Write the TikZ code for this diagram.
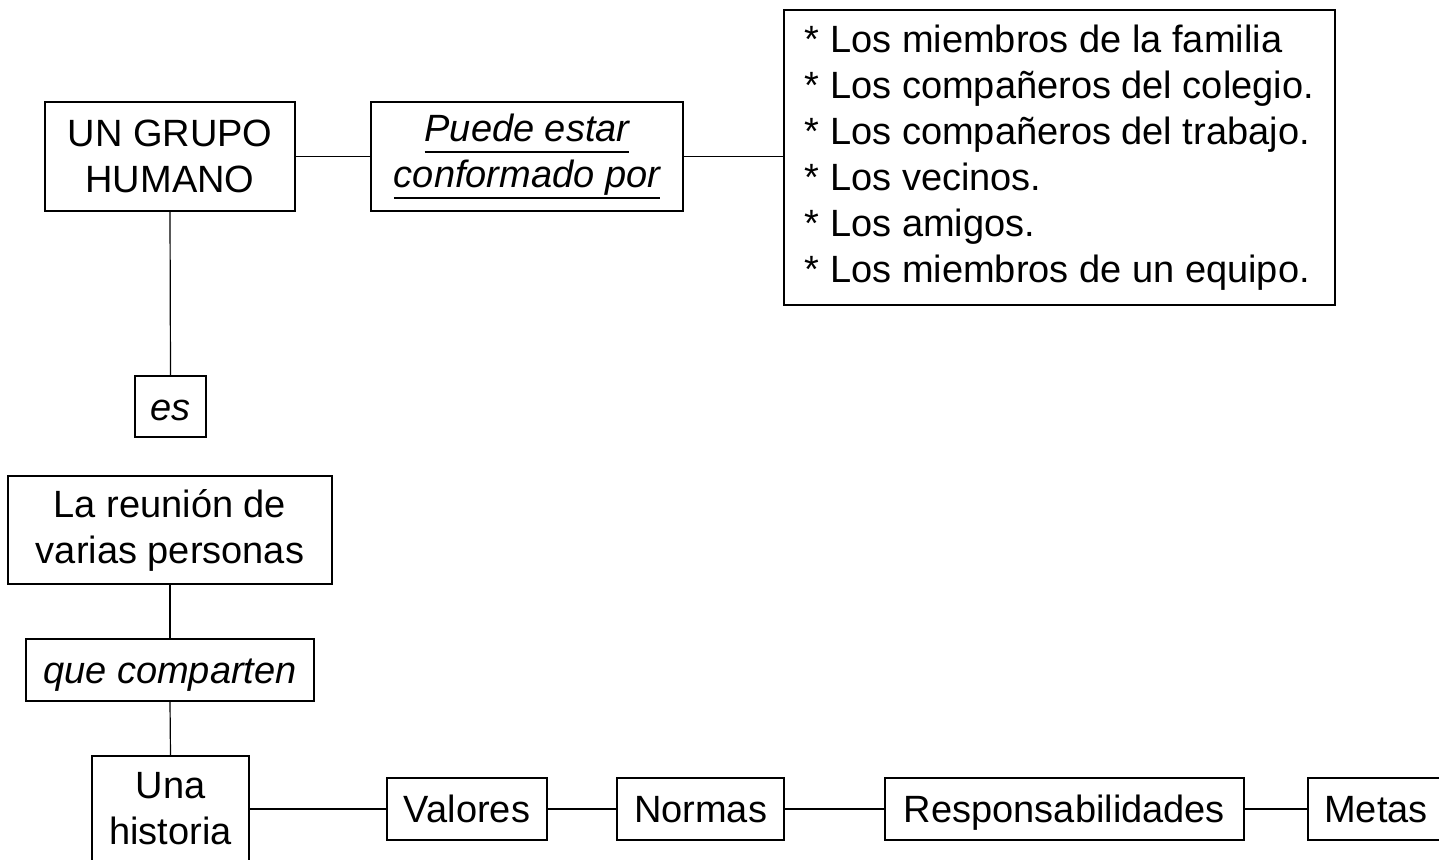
\documentclass[tikz,border=0pt]{standalone}
\usepackage{fontspec}
\setmainfont{Liberation Sans}
\newcommand{\subraya}[1]{\vtop{\hbox{#1\vphantom{p}}\kern0.6pt\hrule height 1.1pt}}
\begin{document}
\begin{tikzpicture}[x=0.5pt,y=-0.5pt,
  caja/.style={draw, line width=0.8pt, inner sep=0pt, align=center,
    font=\fontsize{19}{23}\selectfont},
  enlace/.style={caja, font=\fontsize{19}{23}\selectfont\itshape},
  fila/.style={text height=15pt, text depth=1.5pt},
  linea/.style={line width=0.6pt}]
  \useasboundingbox (0,0) rectangle (1439,859);
  \clip (0,0) rectangle (1439,859);
  % sizes in pt: half of the pixel sizes
  \node (grupo) at (170,156.5) [caja, minimum width=125pt, minimum height=54.5pt] {UN GRUPO\\HUMANO};
  \node (puede) at (527,156.5) [enlace, minimum width=156pt, minimum height=54.5pt]
    {\subraya{Puede estar}\\\subraya{conformado por}};
  \node (lista) at (1059.5,157.5) [caja, align=left, minimum width=275.5pt, minimum height=147.5pt]
    {* Los miembros de la familia\\* Los compañeros del colegio.\\* Los compañeros del trabajo.\\%
     * Los vecinos.\\* Los amigos.\\* Los miembros de un equipo.};
  \node (es) at (170.5,406.5) [enlace, fila, minimum width=35.5pt, minimum height=30.5pt] {es};
  \node (reunion) at (170,530) [caja, minimum width=162pt, minimum height=54pt] {La reunión de\\varias personas};
  \node (comparten) at (170,670) [enlace, fila, minimum width=144pt, minimum height=31pt] {que comparten};
  \node (historia) at (170.5,809) [caja, minimum width=78.5pt, minimum height=53pt] {Una\\historia};
  \node (valores) at (467,809) [caja, fila, minimum width=80pt, minimum height=31pt] {Valores};
  \node (normas) at (700.5,809) [caja, fila, minimum width=83.5pt, minimum height=31pt] {Normas};
  \node (resp) at (1064.5,809) [caja, fila, minimum width=179.5pt, minimum height=31pt] {Responsabilidades};
  \node (metas) at (1376,809) [caja, fila, minimum width=68pt, minimum height=31pt] {Metas};
  \draw[linea] (grupo.east) -- (puede.west);
  \draw[linea] (puede.east) -- (puede.east -| lista.west);
  \draw[linea] (grupo.south) -- (es.north);
  \draw[linea] (reunion.south) -- (comparten.north);
  \draw[linea] (comparten.south) -- (historia.north);
  \draw[linea] (historia.east) -- (valores.west);
  \draw[linea] (valores.east) -- (normas.west);
  \draw[linea] (normas.east) -- (resp.west);
  \draw[linea] (resp.east) -- (metas.west);
\end{tikzpicture}
\end{document}
